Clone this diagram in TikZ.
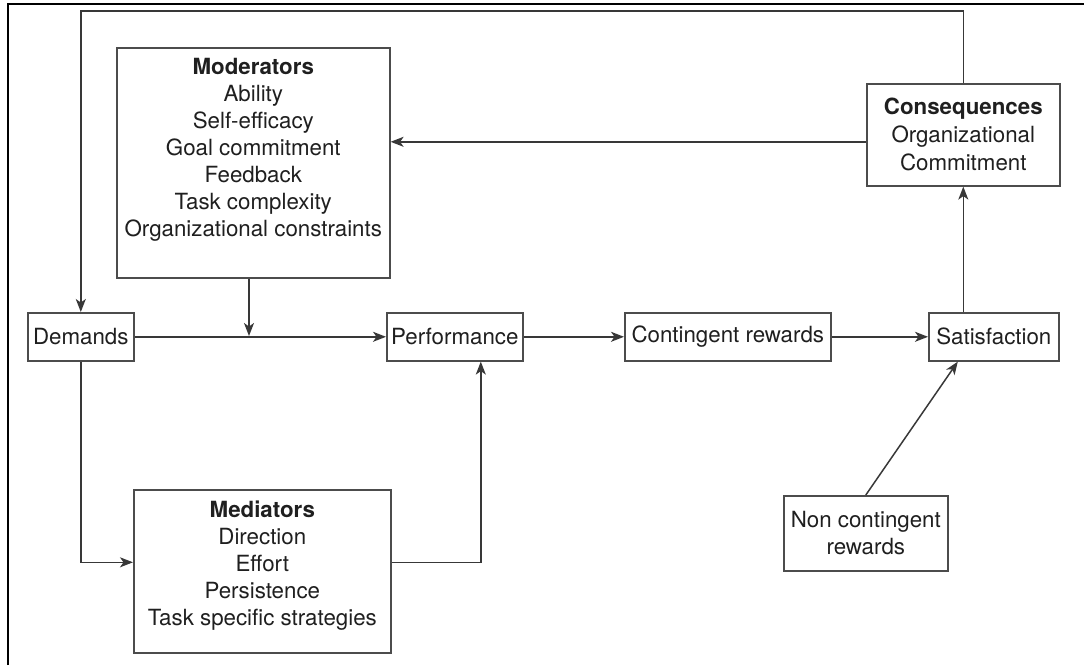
\documentclass[tikz,border=0pt]{standalone}
\usepackage{fontspec}
\setmainfont{TeX Gyre Heros}
\usetikzlibrary{arrows.meta}

\definecolor{linegray}{gray}{0.22}
\definecolor{boxgray}{gray}{0.30}
\definecolor{inkgray}{gray}{0.12}

\tikzset{
  box/.style={draw=boxgray, line width=1.6pt, inner sep=0pt, fill=white},
  txt/.style={inner sep=0pt, align=center, text=inkgray,
              font=\fontsize{22.3}{27}\selectfont},
  arr/.style={draw=linegray, line width=1.5pt,
              -{Stealth[length=13pt, width=10pt, inset=3.5pt]}},
}

\begin{document}
\begin{tikzpicture}[x=1pt, y=-1pt]
\useasboundingbox (0,0) rectangle (1084,665);

% frame edges
\draw[line width=2.6pt, black] (8,665) -- (8,4) -- (1084,4);

% main row
\node[box, txt, anchor=north west, minimum width=106pt, minimum height=48pt] (dem) at (27,312) {Demands};
\node[box, txt, anchor=north west, minimum width=136pt, minimum height=48pt] (perf) at (386,312) {Performance};
\node[box, txt, anchor=north west, minimum width=206pt, minimum height=48pt] (cont) at (624,312) {Contingent rewards};
\node[box, txt, anchor=north west, minimum width=130pt, minimum height=48pt] (sat) at (928,312) {Satisfaction};

% moderators
\node[box, anchor=north west, minimum width=273pt, minimum height=230pt] (mod) at (116,47) {};
\node[txt, anchor=north] (modtxt) at ([yshift=-11pt]mod.north)
  {\textbf{Moderators}\\Ability\\Self-efficacy\\Goal commitment\\Feedback\\Task complexity\\Organizational constraints};

% mediators
\node[box, anchor=north west, minimum width=257pt, minimum height=163pt] (med) at (133,489) {};
\node[txt, anchor=north] (medtxt) at ([yshift=-12pt]med.north)
  {\textbf{Mediators}\\Direction\\Effort\\Persistence\\Task specific strategies};

% consequences
\node[box, txt, anchor=north west, minimum width=193pt, minimum height=102pt,
      font=\fontsize{22.3}{28}\selectfont] (cons) at (866,83)
  {\textbf{Consequences}\\Organizational\\Commitment};

% non contingent rewards
\node[box, txt, anchor=north west, minimum width=164pt, minimum height=75pt] (nc) at (783,495)
  {Non contingent\\rewards};

% connectors
\coordinate (fbk) at (0,11);
\draw[arr] (cons.north) |- (fbk -| dem.north) -- (dem.north);
\draw[arr] ([yshift=-7pt]cons.west) -- ([yshift=-7pt]cons.west -| mod.east);

\coordinate (join) at (249,336);
\draw[arr] (mod.south -| join) -- (join);
\draw[arr] (dem) -- (perf);
\draw[arr] (perf) -- (cont);
\draw[arr] (cont) -- (sat);
\draw[arr] (sat.north -| cons.south) -- (cons.south);

\draw[arr] (dem.south) |- ([yshift=9pt]med.west);
\draw[arr] ([yshift=9pt]med.east) -| ([xshift=26pt]perf.south);

\draw[arr] (nc.north) -- ([xshift=-36pt]sat.south);
\end{tikzpicture}
\end{document}
